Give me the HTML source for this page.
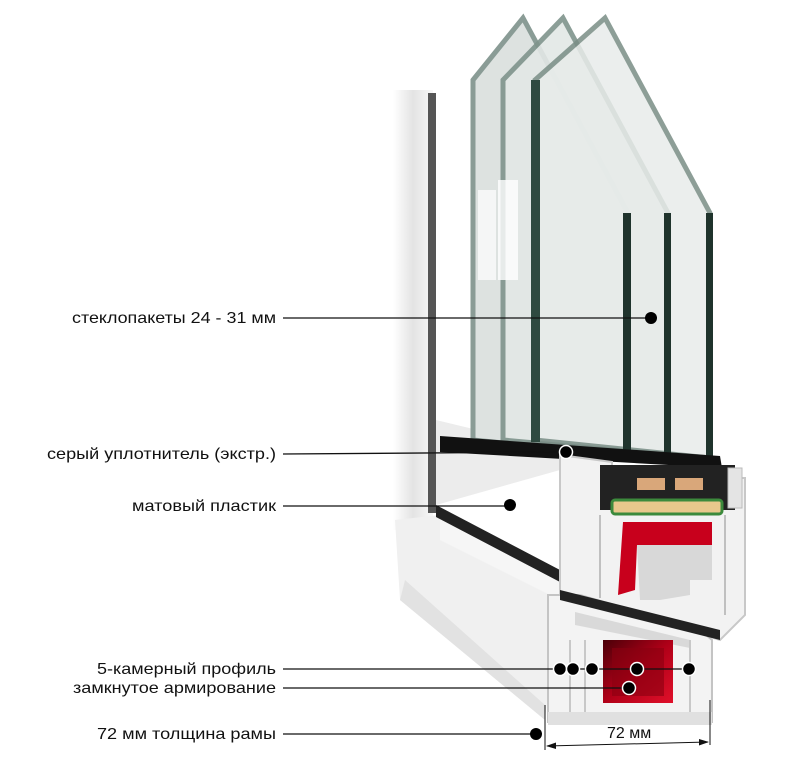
<!DOCTYPE html>
<html><head><meta charset="utf-8"><style>
html,body{margin:0;padding:0;background:#fff;}
svg{display:block}
text{font-family:"Liberation Sans",Arial,sans-serif;font-size:16px;fill:#111}
</style></head><body>
<svg width="800" height="762" viewBox="0 0 800 762" xmlns="http://www.w3.org/2000/svg">
<defs>
<linearGradient id="sh" x1="0" x2="1" y1="0" y2="0">
<stop offset="0" stop-color="#fff"/><stop offset="0.5" stop-color="#d8d8d8"/><stop offset="1" stop-color="#f4f4f4"/>
</linearGradient>
<linearGradient id="red" x1="0" x2="1" y1="0" y2="1">
<stop offset="0" stop-color="#4a0008"/><stop offset="0.5" stop-color="#b00018"/><stop offset="1" stop-color="#e0102a"/>
</linearGradient>
</defs>
<rect x="393" y="90" width="40" height="440" fill="url(#sh)" opacity="0.7"/>
<polygon points="395,520 440,515 560,575 545,720 400,600" fill="#f0f0f0"/>
<polygon points="400,600 545,720 545,705 405,580" fill="#e2e2e2"/>
<polygon points="440,515 560,575 560,600 440,540" fill="#f6f6f6"/>
<rect x="428" y="93" width="8" height="420" fill="#555"/>
<polygon points="436,505 560,570 560,582 436,517" fill="#222"/>
<polygon points="436,420 560,450 560,470 436,505" fill="#ececec"/>
<g>
<polygon points="473,80 523,18 628,213 628,455 473,440" fill="#dde2e0" stroke="#8a9c96" stroke-width="5"/>
<polygon points="503,80 563,18 668,213 668,455 503,440" fill="#e3e8e6" stroke="#7f948c" stroke-width="5" opacity="0.9"/>
<polygon points="535,80 605,18 710,213 710,458 535,440" fill="#e8ecea" stroke="#7a8e86" stroke-width="5" opacity="0.85"/>
<rect x="623" y="213" width="8" height="247" fill="#1f332c"/>
<rect x="664" y="213" width="7" height="247" fill="#1f332c"/>
<rect x="706" y="213" width="7" height="250" fill="#1f332c"/>
<rect x="531" y="80" width="9" height="362" fill="#2f4a40"/>
<rect x="498" y="180" width="20" height="100" fill="#fff" opacity="0.8"/>
<rect x="478" y="190" width="18" height="90" fill="#fff" opacity="0.7"/>
</g>
<polygon points="440,436 720,456 722,468 440,452" fill="#111"/>
<polygon points="560,455 612,462 612,478 745,478 745,615 720,640 595,600 560,600" fill="#f2f2f2" stroke="#c8c8c8" stroke-width="2"/>
<rect x="600" y="465" width="135" height="45" fill="#222"/>
<rect x="637" y="478" width="28" height="12" fill="#d9a77a"/>
<rect x="675" y="478" width="28" height="12" fill="#d9a77a"/>
<rect x="612" y="500" width="110" height="14" rx="3" fill="#e8c88c" stroke="#3c8a3c" stroke-width="3"/>
<rect x="728" y="468" width="14" height="40" fill="#e4e4e4" stroke="#bbb"/>
<polygon points="623,522 712,522 712,545 637,545 635,590 618,595" fill="#c8001c"/>
<polygon points="637,545 712,545 712,580 690,580 690,595 660,600 640,600" fill="#d8d8d8"/>
<line x1="600" y1="515" x2="600" y2="598" stroke="#c0c0c0" stroke-width="2"/>
<line x1="725" y1="515" x2="725" y2="615" stroke="#c0c0c0" stroke-width="2"/>
<polygon points="548,595 580,595 700,630 712,640 712,722 548,722" fill="#f3f3f3" stroke="#c4c4c4" stroke-width="2"/>
<polygon points="560,590 720,630 720,640 560,600" fill="#222"/>
<polygon points="575,612 690,640 690,648 575,625" fill="#d9d9d9"/>
<rect x="603" y="640" width="70" height="63" fill="url(#red)"/>
<rect x="612" y="648" width="52" height="48" fill="#8a0010" opacity="0.6"/>
<line x1="570" y1="640" x2="570" y2="715" stroke="#c8c8c8" stroke-width="2"/>
<line x1="585" y1="640" x2="585" y2="715" stroke="#c8c8c8" stroke-width="2"/>
<line x1="690" y1="640" x2="690" y2="715" stroke="#c8c8c8" stroke-width="2"/>
<polygon points="548,712 712,712 712,725 548,725" fill="#e0e0e0"/>
<line x1="545" y1="705" x2="545" y2="750" stroke="#111" stroke-width="1"/>
<line x1="710" y1="700" x2="710" y2="745" stroke="#111" stroke-width="1"/>
<line x1="547" y1="746" x2="708" y2="742" stroke="#111" stroke-width="1"/>
<polygon points="546,746 556,742.5 556,749" fill="#111"/>
<polygon points="709,742 699,739 699,745.5" fill="#111"/>
<text x="607" y="738">72 мм</text>
<g stroke="#111" stroke-width="1.3">
<line x1="283" y1="318" x2="651" y2="318"/>
<line x1="283" y1="454" x2="566" y2="452"/>
<line x1="283" y1="506" x2="510" y2="506"/>
<line x1="283" y1="669" x2="689" y2="669"/>
<line x1="283" y1="688" x2="629" y2="688"/>
<line x1="283" y1="734" x2="536" y2="734"/>
</g>
<g fill="#000" stroke="#fff" stroke-width="1.5">
<circle cx="651" cy="318" r="6" stroke="none"/>
<circle cx="566" cy="452" r="6.5"/>
<circle cx="510" cy="505" r="6" stroke="none"/>
<circle cx="560" cy="669" r="6.5"/>
<circle cx="573" cy="669" r="6.5"/>
<circle cx="592" cy="669" r="6.5"/>
<circle cx="637" cy="669" r="6.5"/>
<circle cx="689" cy="669" r="6.5"/>
<circle cx="629" cy="688" r="6.5"/>
<circle cx="536" cy="734" r="6" stroke="none"/>
</g>
<text x="72" y="323" textLength="204" lengthAdjust="spacingAndGlyphs">стеклопакеты 24 - 31 мм</text>
<text x="47" y="459" textLength="229" lengthAdjust="spacingAndGlyphs">серый уплотнитель (экстр.)</text>
<text x="132" y="511" textLength="144" lengthAdjust="spacingAndGlyphs">матовый пластик</text>
<text x="97" y="674" textLength="179" lengthAdjust="spacingAndGlyphs">5-камерный профиль</text>
<text x="73" y="693" textLength="203" lengthAdjust="spacingAndGlyphs">замкнутое армирование</text>
<text x="97" y="739" textLength="179" lengthAdjust="spacingAndGlyphs">72 мм толщина рамы</text>
</svg>
</body></html>
